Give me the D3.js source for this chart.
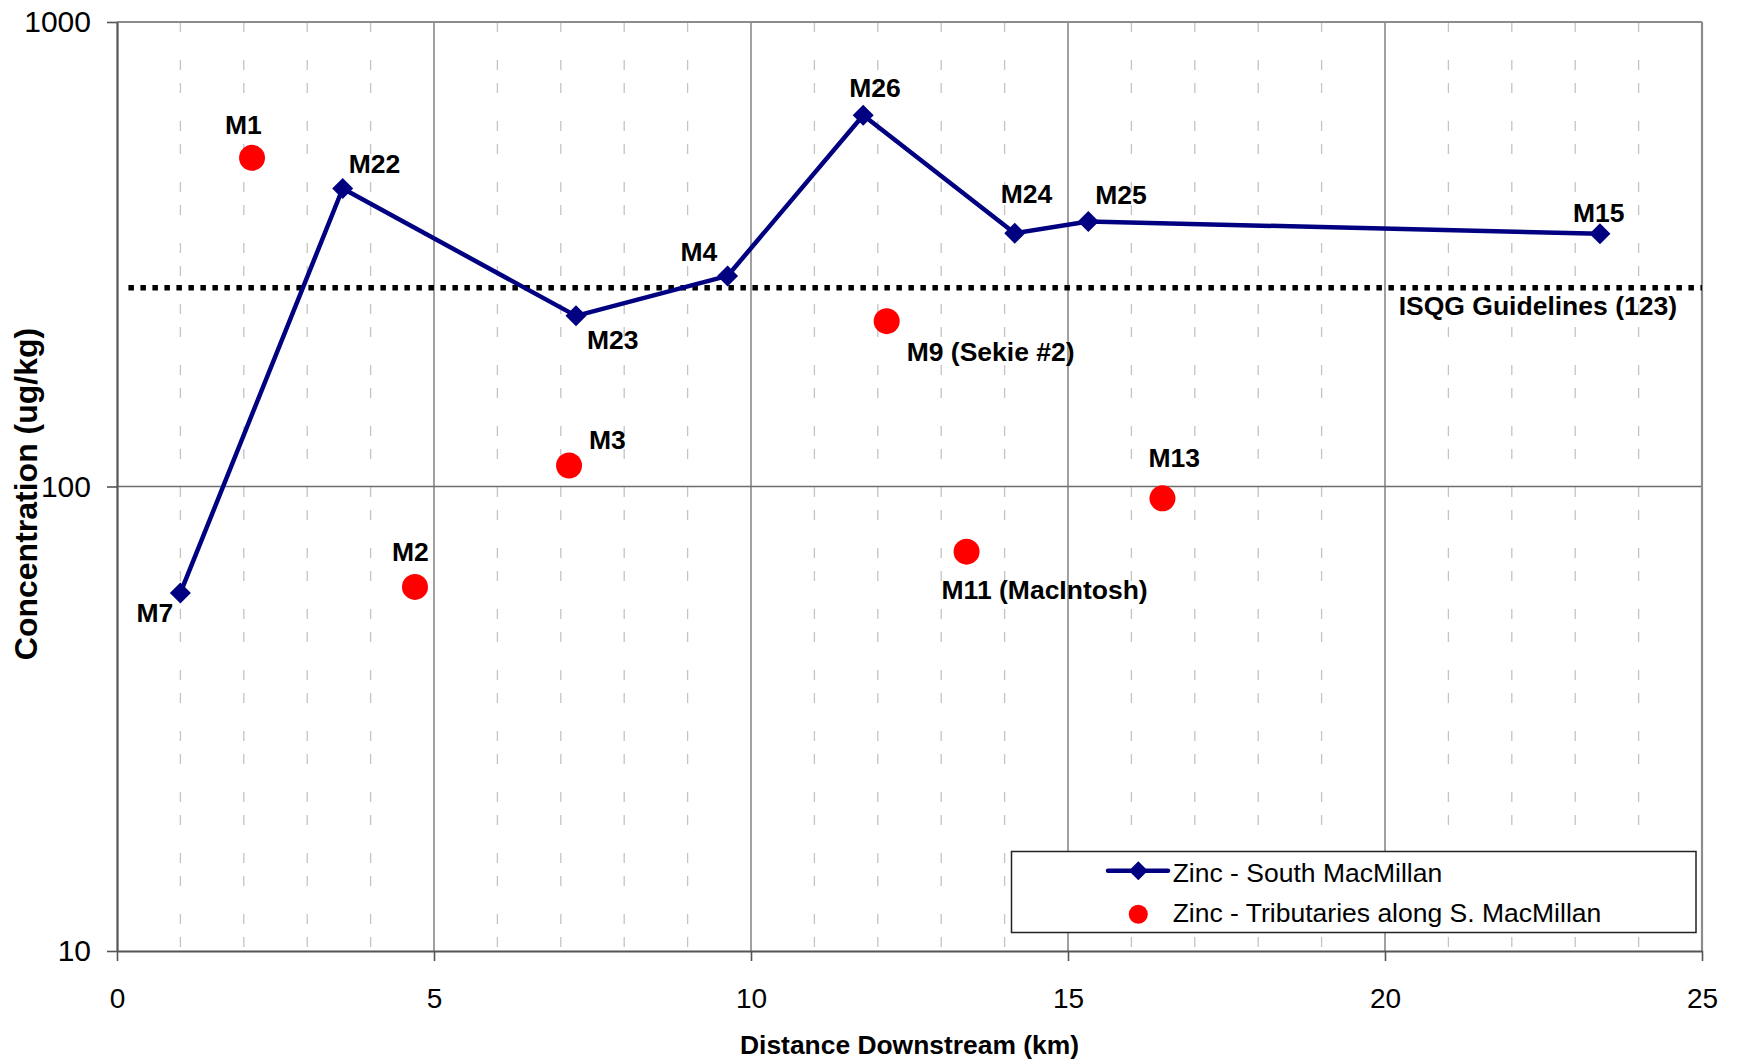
<!DOCTYPE html>
<html>
<head>
<meta charset="utf-8">
<script src="https://cdn.jsdelivr.net/npm/d3@7"></script>
<style>
  html, body { margin: 0; padding: 0; background: #fff; }
  svg { display: block; }
  text { font-family: "Liberation Sans", Arial, sans-serif; }
</style>
</head>
<body>
<svg id="chart" width="1743" height="1062"></svg>
<script>
// ---------------- DATA ----------------
const mainNames = ["M7", "M22", "M23", "M4", "M26", "M24", "M25", "M15"];
const mainKm    = [1.0, 3.56, 7.24, 9.63, 11.77, 14.16, 15.32, 23.39];
const mainZinc  = [59, 438, 233, 284, 630, 351, 372, 350];

const tribNames = ["M1", "M2", "M3", "M9 (Sekie #2)", "M11 (MacIntosh)", "M13"];
const tribKm    = [2.13, 4.70, 7.13, 12.14, 13.40, 16.49];
const tribZinc  = [510, 60.8, 111, 227, 72.4, 94.3];

const guideValue = 268;
const guideStartKm = 0.18;
const guideLabel = "ISQG Guidelines (123)";

const xTicks = [0, 5, 10, 15, 20, 25];
const xMinor = [1,2,3,4,6,7,8,9,11,12,13,14,16,17,18,19,21,22,23,24];
const yTicks = [10, 100, 1000];
const yGrid = [100];

const xTitle = "Distance Downstream (km)";
const yTitle = "Concentration (ug/kg)";
const legendLabels = ["Zinc - South MacMillan", "Zinc - Tributaries along S. MacMillan"];

// ---------------- LAYOUT ----------------
const L = 117, R = 1702, T = 22, B = 951;
const NAVY = "#000080", RED = "#ff0000";
const LABEL_FS = 26.5;

const svg = d3.select("#chart");
const x = d3.scaleLinear().domain([0, 25]).range([L, R]);
const y = d3.scaleLog().domain([10, 1000]).range([B, T]);

// minor dashed gridlines
svg.append("g").selectAll("line").data(xMinor).join("line")
  .attr("x1", d => x(d)).attr("x2", d => x(d))
  .attr("y1", T).attr("y2", B)
  .attr("stroke", "#c4c4c4").attr("stroke-width", 1.3)
  .attr("stroke-dasharray", "10,28,10,13");

// major gridlines
svg.append("g").selectAll("line").data(xTicks.filter(d => d > 0 && d < 25)).join("line")
  .attr("x1", d => x(d)).attr("x2", d => x(d))
  .attr("y1", T).attr("y2", B)
  .attr("stroke", "#6e6e6e").attr("stroke-width", 1.3);
svg.append("g").selectAll("line").data(yGrid).join("line")
  .attr("x1", L).attr("x2", R)
  .attr("y1", d => y(d)).attr("y2", d => y(d))
  .attr("stroke", "#6e6e6e").attr("stroke-width", 1.3);

// plot border top/right
svg.append("line").attr("x1", L).attr("x2", R).attr("y1", T).attr("y2", T)
  .attr("stroke", "#8c8c8c").attr("stroke-width", 2.2);
svg.append("line").attr("x1", R).attr("x2", R).attr("y1", T).attr("y2", B)
  .attr("stroke", "#8c8c8c").attr("stroke-width", 2.2);

// axes
const yAxis = d3.axisLeft(y).tickValues(yTicks).tickFormat(d3.format("d"))
  .tickSize(10).tickPadding(16).tickSizeOuter(0);
const gy = svg.append("g").attr("transform", `translate(${L},0)`).call(yAxis);
gy.selectAll("text").attr("font-size", 30).attr("fill", "#000")
  .style("font-family", "'Liberation Sans', Arial, sans-serif");

const xAxis = d3.axisBottom(x).tickValues(xTicks).tickFormat(d3.format("d"))
  .tickSize(10).tickPadding(27).tickSizeOuter(0);
const gx = svg.append("g").attr("transform", `translate(0,${B})`).call(xAxis);
gx.selectAll("text").attr("font-size", 28).attr("fill", "#000")
  .style("font-family", "'Liberation Sans', Arial, sans-serif");

[gx, gy].forEach(g => {
  g.select(".domain").attr("stroke", "#555").attr("stroke-width", 2.2);
  g.selectAll(".tick line").attr("stroke", "#555").attr("stroke-width", 1.6);
});

// guideline
svg.append("line")
  .attr("x1", x(guideStartKm)).attr("x2", x(25))
  .attr("y1", y(guideValue)).attr("y2", y(guideValue))
  .attr("stroke", "#000").attr("stroke-width", 5.5)
  .attr("stroke-dasharray", "5.5,6.5");
svg.append("text")
  .attr("x", x(25) - 25).attr("y", y(guideValue) + 27)
  .attr("text-anchor", "end").attr("font-size", LABEL_FS).attr("font-weight", "bold")
  .text(guideLabel);

// series
const mainData = mainNames.map((n, i) => ({ name: n, km: mainKm[i], v: mainZinc[i] }));
const tribData = tribNames.map((n, i) => ({ name: n, km: tribKm[i], v: tribZinc[i] }));

svg.append("path").datum(mainData)
  .attr("fill", "none").attr("stroke", NAVY).attr("stroke-width", 4.5)
  .attr("stroke-linejoin", "round")
  .attr("d", d3.line().x(d => x(d.km)).y(d => y(d.v)));

const diamond = h => `M0,${-h}L${h},0L0,${h}L${-h},0Z`;
svg.append("g").selectAll("path").data(mainData).join("path")
  .attr("transform", d => `translate(${x(d.km)},${y(d.v)})`)
  .attr("d", diamond(10.5)).attr("fill", NAVY);

svg.append("g").selectAll("circle").data(tribData).join("circle")
  .attr("cx", d => x(d.km)).attr("cy", d => y(d.v)).attr("r", 13)
  .attr("fill", RED);

// point labels: offsets (left edge, baseline) relative to marker
const mainOffsets = {
  "M7": [-44, 29], "M22": [6, -16], "M23": [11, 33], "M4": [-47, -15],
  "M26": [-14, -18], "M24": [-14, -30], "M25": [7, -17], "M15": [-27, -12]
};
const tribOffsets = {
  "M1": [-27, -24], "M2": [-23, -26], "M3": [20, -16],
  "M9 (Sekie #2)": [20, 40], "M11 (MacIntosh)": [-25, 47], "M13": [-14, -31]
};
svg.append("g").selectAll("text").data(mainData).join("text")
  .attr("x", d => x(d.km) + mainOffsets[d.name][0])
  .attr("y", d => y(d.v) + mainOffsets[d.name][1])
  .attr("font-size", LABEL_FS).attr("font-weight", "bold").text(d => d.name);
svg.append("g").selectAll("text").data(tribData).join("text")
  .attr("x", d => x(d.km) + tribOffsets[d.name][0])
  .attr("y", d => y(d.v) + tribOffsets[d.name][1])
  .attr("font-size", LABEL_FS).attr("font-weight", "bold").text(d => d.name);

// axis titles
svg.append("text")
  .attr("x", (L + R) / 2).attr("y", 1054)
  .attr("text-anchor", "middle").attr("font-size", 25).attr("font-weight", "bold")
  .attr("textLength", 339).attr("lengthAdjust", "spacingAndGlyphs")
  .text(xTitle);
svg.append("text")
  .attr("transform", "translate(37,494) rotate(-90)")
  .attr("text-anchor", "middle").attr("font-size", 32).attr("font-weight", "bold")
  .text(yTitle);

// legend
const lg = svg.append("g");
lg.append("rect").attr("x", 1011.5).attr("y", 851.5).attr("width", 684.5).attr("height", 81)
  .attr("fill", "#fff").attr("stroke", "#222").attr("stroke-width", 1.5);
lg.append("line").attr("x1", 1108).attr("x2", 1168).attr("y1", 870.7).attr("y2", 870.7)
  .attr("stroke", NAVY).attr("stroke-width", 4.5).attr("stroke-linecap", "round");
lg.append("path").attr("transform", "translate(1138.3,870.7)").attr("d", diamond(9.5)).attr("fill", NAVY);
lg.append("circle").attr("cx", 1138.3).attr("cy", 914.3).attr("r", 9.5).attr("fill", RED);
lg.selectAll("text.lt").data(legendLabels).join("text").attr("class", "lt")
  .attr("x", 1172.7).attr("y", (d, i) => i === 0 ? 881.7 : 922.3)
  .attr("font-size", 26.5).text(d => d);
</script>
</body>
</html>
